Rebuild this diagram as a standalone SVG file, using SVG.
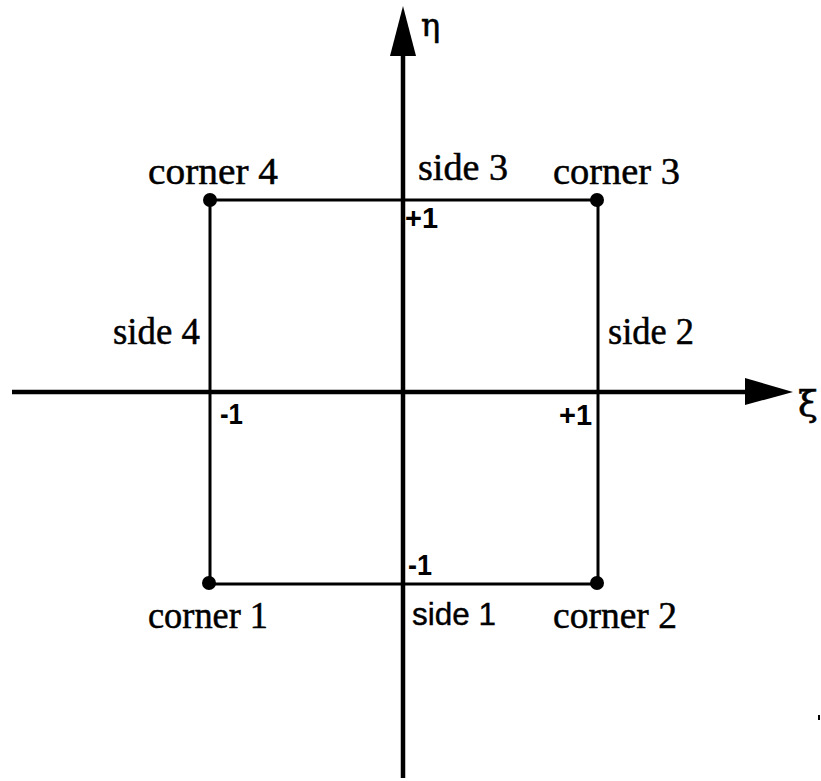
<svg xmlns="http://www.w3.org/2000/svg" width="821" height="781" viewBox="0 0 821 781">
<style>
.ax{stroke:#000;stroke-width:4.5;fill:none}
.sq{stroke:#000;stroke-width:3;fill:none}
.ser{font-family:"Liberation Serif","Times New Roman",serif;font-size:38px;fill:#000;stroke:#000;stroke-width:0.5}
.san{font-family:"Liberation Sans",Arial,sans-serif;font-size:32px;fill:#000;stroke:#000;stroke-width:0.4}
.num{font-family:"Liberation Sans",Arial,sans-serif;font-size:29px;font-weight:bold;fill:#000}
.gr{font-family:"DejaVu Serif","Liberation Serif",serif;font-size:36px;fill:#000;stroke:#000;stroke-width:0.6}
</style>
<rect width="821" height="781" fill="#fff"/>
<g id="connectors">
<line class="ax" x1="12" y1="392" x2="750" y2="392"/>
<polygon points="793,392 745,378 745,405" fill="#000"/>
<line class="ax" x1="403" y1="778" x2="403" y2="50"/>
<polygon points="403,6 390,56 416,56" fill="#000"/>
</g>
<g id="square">
<rect class="sq" x="210" y="200" width="388" height="384"/>
</g>
<g id="corner1"><circle cx="209" cy="583" r="7"/><text class="ser" x="148" y="628" textLength="120" lengthAdjust="spacingAndGlyphs">corner 1</text></g>
<g id="corner2"><circle cx="597" cy="583" r="7"/><text class="ser" x="553" y="628" textLength="124" lengthAdjust="spacingAndGlyphs">corner 2</text></g>
<g id="corner3"><circle cx="597" cy="200" r="7"/><text class="ser" x="553" y="184" textLength="127" lengthAdjust="spacingAndGlyphs">corner 3</text></g>
<g id="corner4"><circle cx="210" cy="200" r="7"/><text class="ser" x="148" y="184" textLength="130" lengthAdjust="spacingAndGlyphs">corner 4</text></g>
<g id="side1"><text class="san" x="412" y="625" textLength="84" lengthAdjust="spacingAndGlyphs">side 1</text></g>
<g id="side2"><text class="ser" x="608" y="344" textLength="86" lengthAdjust="spacingAndGlyphs">side 2</text></g>
<g id="side3"><text class="ser" x="418" y="180" textLength="90" lengthAdjust="spacingAndGlyphs">side 3</text></g>
<g id="side4"><text class="ser" x="113" y="344" textLength="87" lengthAdjust="spacingAndGlyphs">side 4</text></g>
<g id="labels">
<text class="num" x="405" y="228" textLength="33" lengthAdjust="spacingAndGlyphs">+1</text>
<text class="num" x="408" y="575" textLength="24" lengthAdjust="spacingAndGlyphs">-1</text>
<text class="num" x="220" y="424" textLength="23" lengthAdjust="spacingAndGlyphs">-1</text>
<text class="num" x="559" y="425" textLength="33" lengthAdjust="spacingAndGlyphs">+1</text>
<text class="gr" x="421" y="36" style="font-size:32px">η</text>
<text class="gr" x="798" y="416">ξ</text>
</g>
<rect x="818" y="715" width="2" height="5" fill="#000"/>
</svg>
